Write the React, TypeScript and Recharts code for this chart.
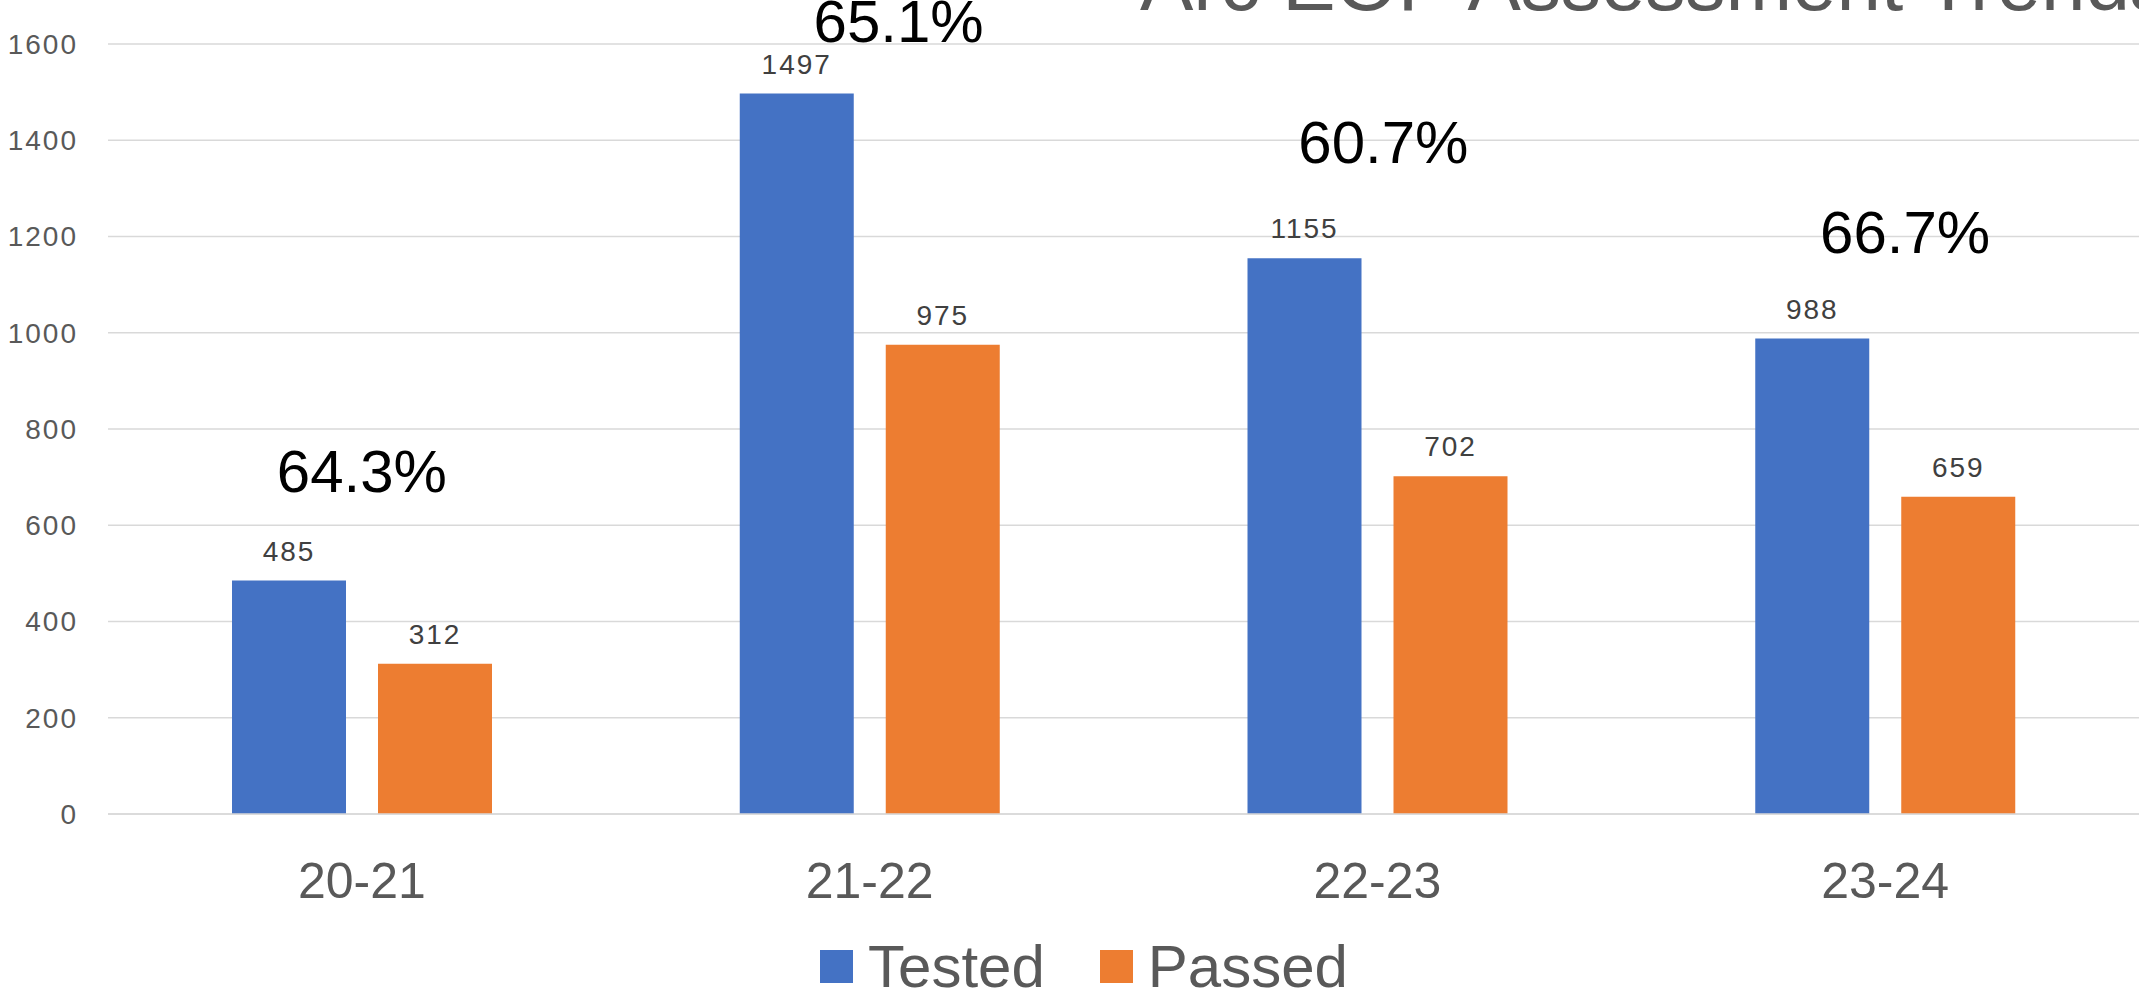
import React from 'react';
import { BarChart, Bar, XAxis, YAxis, CartesianGrid, Legend, LabelList, ReferenceDot } from 'recharts';

const categories = ['20-21', '21-22', '22-23', '23-24'];
const tested = [485, 1497, 1155, 988];
const passed = [312, 975, 702, 659];
const passRates = ['64.3%', '65.1%', '60.7%', '66.7%'];
const yTicks = [0, 200, 400, 600, 800, 1000, 1200, 1400, 1600];

// where the free-floating pass-rate text boxes sit, in axis units
const rateLevels = [670, 1605, 1352, 1165];
const rateShift = [0, 29, 6, 20];

const FONT = '"Liberation Sans", Arial, sans-serif';
const BLUE = '#4472C4';
const ORANGE = '#ED7D31';

const data = categories.map((period, i) => ({ period, Tested: tested[i], Passed: passed[i] }));

const LegendBox = () => (
  <div
    style={{
      display: 'flex',
      justifyContent: 'center',
      alignItems: 'center',
      height: 70,
      paddingLeft: 29,
      boxSizing: 'border-box',
      fontFamily: FONT,
    }}
  >
    {[
      { name: 'Tested', color: BLUE },
      { name: 'Passed', color: ORANGE },
    ].map((item, i) => (
      <div key={item.name} style={{ display: 'flex', alignItems: 'center', marginLeft: i ? 55 : 0, height: 60, marginTop: 13 }}>
        <div style={{ width: 33, height: 33, background: item.color, marginRight: 15 }} />
        <span style={{ fontSize: 60, lineHeight: '60px', color: '#595959' }}>{item.name}</span>
      </div>
    ))}
  </div>
);

const App: React.FC = () => {
  return (
    <div style={{ position: 'absolute', left: 0, top: 0, width: 2139, height: 995, background: '#fff', overflow: 'hidden' }}>
      <BarChart
        width={2139}
        height={995}
        data={data}
        margin={{ top: 44, right: 0, left: 0, bottom: 0 }}
        barCategoryGap={124}
        barGap={32}
      >
        <CartesianGrid vertical={false} stroke="#D9D9D9" strokeWidth={1.5} />
        <XAxis
          dataKey="period"
          height={111}
          tickLine={false}
          axisLine={{ stroke: '#D9D9D9', strokeWidth: 1.5 }}
          tickMargin={42}
          tick={{ fontSize: 50, fill: '#595959', fontFamily: FONT }}
        />
        <YAxis
          width={108}
          domain={[0, 1600]}
          ticks={yTicks}
          tickLine={false}
          axisLine={false}
          tickMargin={24}
          tick={{ fontSize: 28, fill: '#595959', fontFamily: FONT, letterSpacing: 2 }}
        />
        <Legend verticalAlign="bottom" content={<LegendBox />} />
        <Bar dataKey="Tested" fill={BLUE} isAnimationActive={false}>
          <LabelList dataKey="Tested" position="top" offset={20} style={{ fontSize: 28, fill: '#404040', fontFamily: FONT, letterSpacing: 2 }} />
        </Bar>
        <Bar dataKey="Passed" fill={ORANGE} isAnimationActive={false}>
          <LabelList dataKey="Passed" position="top" offset={20} style={{ fontSize: 28, fill: '#404040', fontFamily: FONT, letterSpacing: 2 }} />
        </Bar>
        {categories.map((c, i) => (
          <ReferenceDot
            key={c}
            x={c}
            y={rateLevels[i]}
            r={1}
            ifOverflow="visible"
            shape={(p: any) => (
              <text x={p.cx + rateShift[i]} y={p.cy} textAnchor="middle" fontSize={60} fill="#000" fontFamily={FONT}>
                {passRates[i]}
              </text>
            )}
          />
        ))}
      </BarChart>
      <svg width={2139} height={60} style={{ position: 'absolute', left: 0, top: 0, pointerEvents: 'none' }}>
        <text x={1140} y={10} fontSize={80} fill="#595959" fontFamily={FONT}>
          Arc EOP Assessment Trends
        </text>
      </svg>
    </div>
  );
};

export default App;
